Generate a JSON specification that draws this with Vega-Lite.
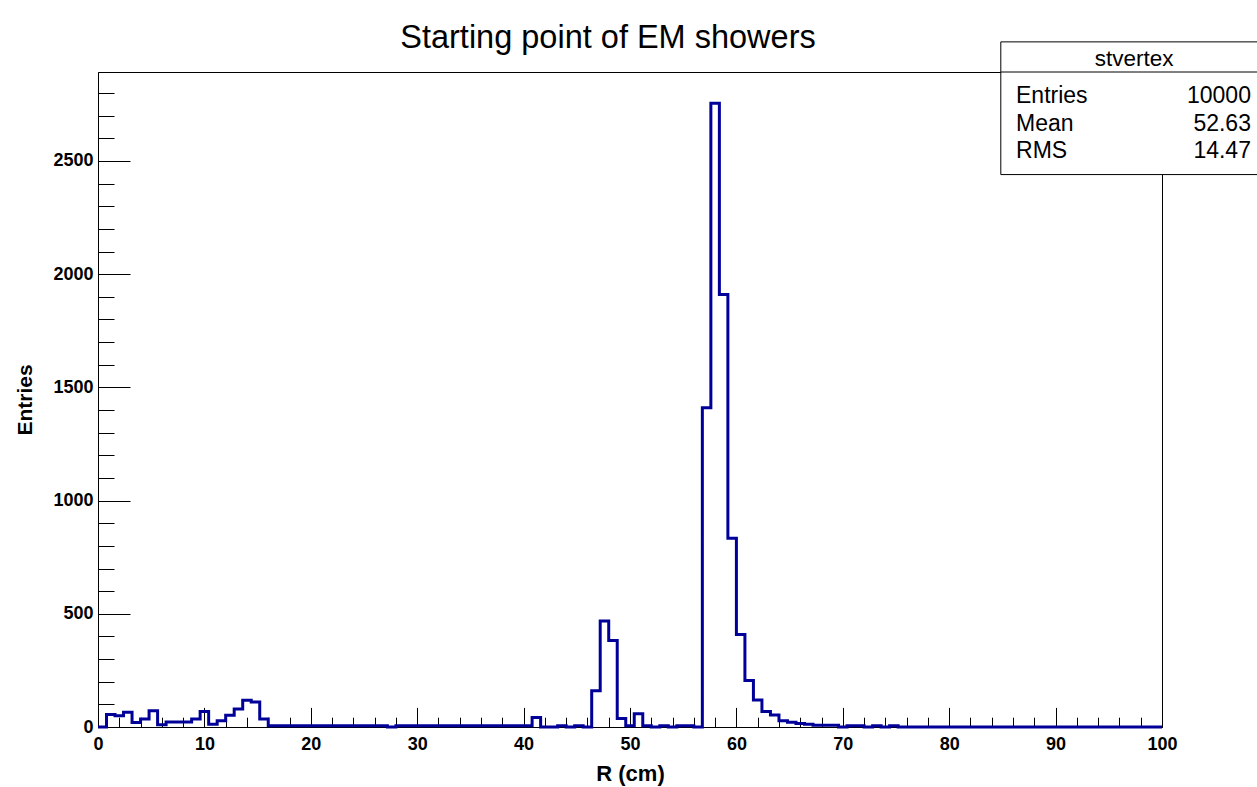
{
  "$schema": "https://vega.github.io/schema/vega-lite/v6.json",
  "width": 1064,
  "height": 655,
  "autosize": {"type": "none"},
  "padding": {"left": 98, "top": 72, "right": 95, "bottom": 60},
  "background": "white",
  "title": {"text": "Starting point of EM showers", "font": "Liberation Sans", "fontSize": 32.5, "fontWeight": "normal", "color": "black", "anchor": "middle", "dx": -22, "offset": -13},
  "config": {"view": {"stroke": "black", "strokeWidth": 1}, "axis": {"labelFlush": false, "labelBound": false, "grid": false}},
  "resolve": {"axis": {"x": "independent", "y": "independent"}},
  "layer": [
    {
      "data": {"values": [
        {"R":0,"n":0},{"R":0.8,"n":55},{"R":1.6,"n":50},{"R":2.4,"n":65},{"R":3.2,"n":20},{"R":4,"n":35},{"R":4.8,"n":72},{"R":5.6,"n":10},{"R":6.4,"n":22},{"R":7.2,"n":22},
        {"R":8,"n":22},{"R":8.8,"n":35},{"R":9.6,"n":68},{"R":10.4,"n":12},{"R":11.2,"n":28},{"R":12,"n":52},{"R":12.8,"n":80},{"R":13.6,"n":118},{"R":14.4,"n":110},{"R":15.2,"n":35},
        {"R":16,"n":5},{"R":16.8,"n":6},{"R":17.6,"n":6},{"R":18.4,"n":6},{"R":19.2,"n":6},{"R":20,"n":6},{"R":20.8,"n":6},{"R":21.6,"n":6},{"R":22.4,"n":6},{"R":23.2,"n":6},
        {"R":24,"n":6},{"R":24.8,"n":6},{"R":25.6,"n":6},{"R":26.4,"n":6},{"R":27.2,"n":0},{"R":28,"n":6},{"R":28.8,"n":6},{"R":29.6,"n":6},{"R":30.4,"n":6},{"R":31.2,"n":6},
        {"R":32,"n":6},{"R":32.8,"n":6},{"R":33.6,"n":6},{"R":34.4,"n":6},{"R":35.2,"n":6},{"R":36,"n":6},{"R":36.8,"n":6},{"R":37.6,"n":6},{"R":38.4,"n":6},{"R":39.2,"n":6},
        {"R":40,"n":6},{"R":40.8,"n":42},{"R":41.6,"n":0},{"R":42.4,"n":0},{"R":43.2,"n":6},{"R":44,"n":0},{"R":44.8,"n":6},{"R":45.6,"n":0},{"R":46.4,"n":160},{"R":47.2,"n":468},
        {"R":48,"n":382},{"R":48.8,"n":38},{"R":49.6,"n":6},{"R":50.4,"n":58},{"R":51.2,"n":6},{"R":52,"n":0},{"R":52.8,"n":6},{"R":53.6,"n":0},{"R":54.4,"n":6},{"R":55.2,"n":6},
        {"R":56,"n":0},{"R":56.8,"n":1410},{"R":57.6,"n":2755},{"R":58.4,"n":1910},{"R":59.2,"n":834},{"R":60,"n":409},{"R":60.8,"n":205},{"R":61.6,"n":119},{"R":62.4,"n":68},{"R":63.2,"n":53},
        {"R":64,"n":28},{"R":64.8,"n":21},{"R":65.6,"n":16},{"R":66.4,"n":12},{"R":67.2,"n":8},{"R":68,"n":8},{"R":68.8,"n":8},{"R":69.6,"n":0},{"R":70.4,"n":6},{"R":71.2,"n":6},
        {"R":72,"n":0},{"R":72.8,"n":6},{"R":73.6,"n":0},{"R":74.4,"n":6},{"R":75.2,"n":0},{"R":76,"n":0},{"R":76.8,"n":0},{"R":77.6,"n":0},{"R":78.4,"n":0},{"R":79.2,"n":0},
        {"R":80,"n":0},{"R":80.8,"n":0},{"R":81.6,"n":0},{"R":82.4,"n":0},{"R":83.2,"n":0},{"R":84,"n":0},{"R":84.8,"n":0},{"R":85.6,"n":0},{"R":86.4,"n":0},{"R":87.2,"n":0},
        {"R":88,"n":0},{"R":88.8,"n":0},{"R":89.6,"n":0},{"R":90.4,"n":0},{"R":91.2,"n":0},{"R":92,"n":0},{"R":92.8,"n":0},{"R":93.6,"n":0},{"R":94.4,"n":0},{"R":95.2,"n":0},
        {"R":96,"n":0},{"R":96.8,"n":0},{"R":97.6,"n":0},{"R":98.4,"n":0},{"R":99.2,"n":0},{"R":100,"n":0}
      ]},
      "mark": {"type": "line", "interpolate": "step-after", "color": "#000099", "strokeWidth": 3, "strokeJoin": "miter", "strokeCap": "butt"},
      "encoding": {
        "x": {"field": "R", "type": "quantitative", "scale": {"domain": [0, 100], "nice": false, "zero": false},
          "axis": {"orient": "bottom", "values": [0,10,20,30,40,50,60,70,80,90,100], "format": "d",
            "tickSize": -19.6, "tickColor": "black", "tickWidth": 1, "domainColor": "black", "domainWidth": 1,
            "labelFont": "Liberation Sans", "labelFontSize": 18, "labelFontWeight": "bold", "labelColor": "black",
            "labelPadding": 27.6, "labelOverlap": false,
            "title": "R (cm)", "titleFont": "Liberation Sans", "titleFontSize": 22, "titleFontWeight": "bold", "titleColor": "black",
            "titleY": 46, "titleBaseline": "middle", "titleAlign": "center"}},
        "y": {"field": "n", "type": "quantitative", "scale": {"domain": [0, 2893], "nice": false, "zero": true},
          "axis": {"orient": "left", "values": [0,500,1000,1500,2000,2500], "format": "d",
            "tickSize": -32, "tickColor": "black", "tickWidth": 1, "domainColor": "black", "domainWidth": 1,
            "labelFont": "Liberation Sans", "labelFontSize": 18, "labelFontWeight": "bold", "labelColor": "black",
            "labelPadding": 37, "labelOverlap": false,
            "title": "Entries", "titleFont": "Liberation Sans", "titleFontSize": 21, "titleFontWeight": "bold", "titleColor": "black",
            "titleX": -73, "titleBaseline": "middle", "titleAlign": "center", "titleAngle": -90}}
      }
    },
    {
      "data": {"values": [{"name": "stvertex"}]},
      "mark": {"type": "rect", "fill": "white", "stroke": "black", "strokeWidth": 1},
      "encoding": {
        "x": {"datum": 84.85, "type": "quantitative", "scale": {"domain": [0, 100], "nice": false, "zero": false},
          "axis": {"orient": "bottom", "values": [2,4,6,8,12,14,16,18,22,24,26,28,32,34,36,38,42,44,46,48,52,54,56,58,62,64,66,68,72,74,76,78,82,84,86,88,92,94,96,98],
            "tickSize": -9.8, "tickColor": "black", "tickWidth": 1, "labels": false, "domain": false, "title": null}},
        "x2": {"datum": 112},
        "y": {"datum": 3026, "type": "quantitative", "scale": {"domain": [0, 2893], "nice": false, "zero": true},
          "axis": {"orient": "left", "values": [100,200,300,400,600,700,800,900,1100,1200,1300,1400,1600,1700,1800,1900,2100,2200,2300,2400,2600,2700,2800],
            "tickSize": -16, "tickColor": "black", "tickWidth": 1, "labels": false, "domain": false, "title": null}},
        "y2": {"datum": 2440}
      }
    },
    {
      "data": {"values": [{"name": "stvertex"}]},
      "mark": {"type": "rule", "color": "black", "strokeWidth": 1},
      "encoding": {
        "x": {"datum": 84.85, "type": "quantitative", "scale": {"domain": [0, 100], "nice": false, "zero": false}, "axis": null},
        "x2": {"datum": 112},
        "y": {"datum": 2893, "type": "quantitative", "scale": {"domain": [0, 2893], "nice": false, "zero": true}, "axis": null}
      }
    },
    {
      "data": {"values": [{"name": "stvertex"}]},
      "mark": {"type": "text", "font": "Liberation Sans", "fontSize": 22.5, "color": "black", "align": "center", "baseline": "middle"},
      "encoding": {
        "text": {"field": "name"},
        "x": {"datum": 97.37, "type": "quantitative", "scale": {"domain": [0, 100], "nice": false, "zero": false}, "axis": null},
        "y": {"datum": 2950, "type": "quantitative", "scale": {"domain": [0, 2893], "nice": false, "zero": true}, "axis": null}
      }
    },
    {
      "data": {"values": [{"stat": "Entries", "value": "10000"}]},
      "encoding": {
        "y": {"datum": 2787, "type": "quantitative", "scale": {"domain": [0, 2893], "nice": false, "zero": true}, "axis": null}
      },
      "layer": [
        {"mark": {"type": "text", "font": "Liberation Sans", "fontSize": 23, "color": "black", "align": "left", "baseline": "middle"},
         "encoding": {"text": {"field": "stat"}, "x": {"datum": 86.28, "type": "quantitative", "scale": {"domain": [0, 100], "nice": false, "zero": false}, "axis": null}}},
        {"mark": {"type": "text", "font": "Liberation Sans", "fontSize": 23, "color": "black", "align": "right", "baseline": "middle"},
         "encoding": {"text": {"field": "value"}, "x": {"datum": 108.36, "type": "quantitative", "scale": {"domain": [0, 100], "nice": false, "zero": false}, "axis": null}}}
      ]
    },
    {
      "data": {"values": [{"stat": "Mean", "value": "52.63"}]},
      "encoding": {
        "y": {"datum": 2663, "type": "quantitative", "scale": {"domain": [0, 2893], "nice": false, "zero": true}, "axis": null}
      },
      "layer": [
        {"mark": {"type": "text", "font": "Liberation Sans", "fontSize": 23, "color": "black", "align": "left", "baseline": "middle"},
         "encoding": {"text": {"field": "stat"}, "x": {"datum": 86.28, "type": "quantitative", "scale": {"domain": [0, 100], "nice": false, "zero": false}, "axis": null}}},
        {"mark": {"type": "text", "font": "Liberation Sans", "fontSize": 23, "color": "black", "align": "right", "baseline": "middle"},
         "encoding": {"text": {"field": "value"}, "x": {"datum": 108.36, "type": "quantitative", "scale": {"domain": [0, 100], "nice": false, "zero": false}, "axis": null}}}
      ]
    },
    {
      "data": {"values": [{"stat": "RMS", "value": "14.47"}]},
      "encoding": {
        "y": {"datum": 2544, "type": "quantitative", "scale": {"domain": [0, 2893], "nice": false, "zero": true}, "axis": null}
      },
      "layer": [
        {"mark": {"type": "text", "font": "Liberation Sans", "fontSize": 23, "color": "black", "align": "left", "baseline": "middle"},
         "encoding": {"text": {"field": "stat"}, "x": {"datum": 86.28, "type": "quantitative", "scale": {"domain": [0, 100], "nice": false, "zero": false}, "axis": null}}},
        {"mark": {"type": "text", "font": "Liberation Sans", "fontSize": 23, "color": "black", "align": "right", "baseline": "middle"},
         "encoding": {"text": {"field": "value"}, "x": {"datum": 108.36, "type": "quantitative", "scale": {"domain": [0, 100], "nice": false, "zero": false}, "axis": null}}}
      ]
    }
  ]
}
